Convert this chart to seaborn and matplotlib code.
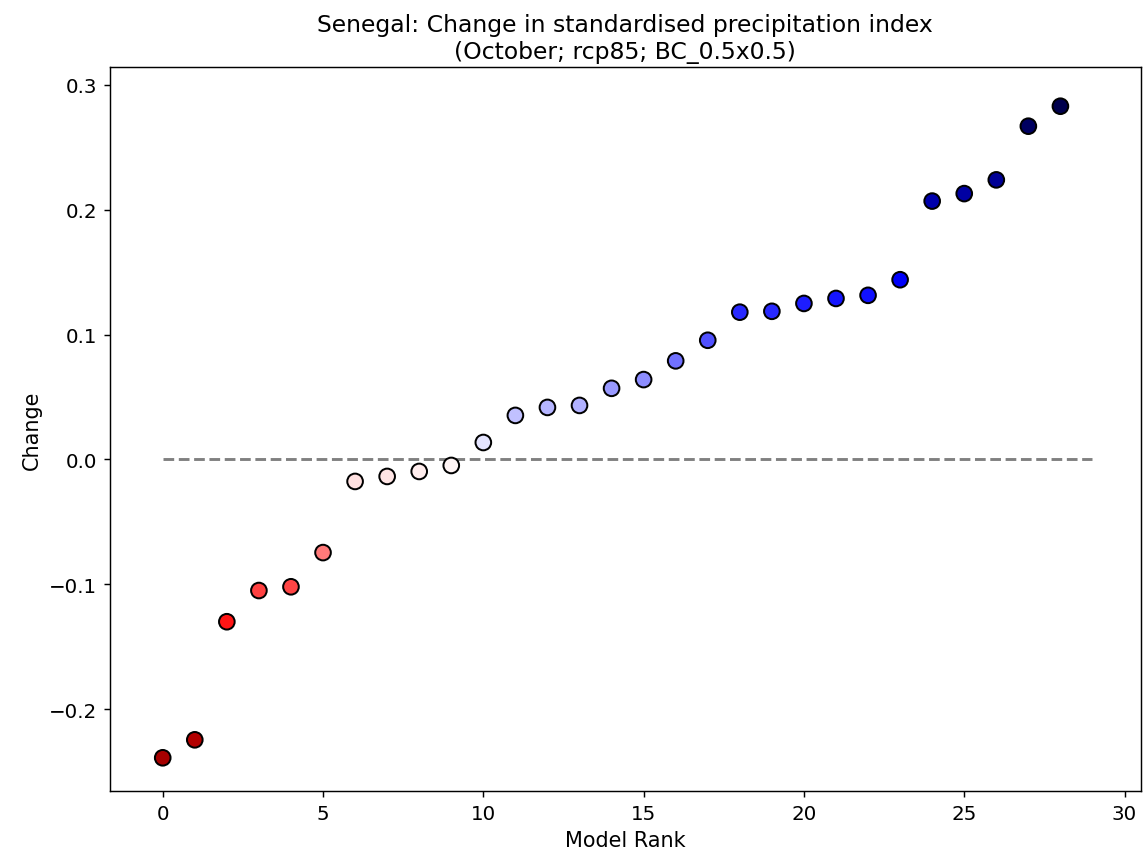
import matplotlib
matplotlib.use("Agg")
import matplotlib.pyplot as plt
import seaborn as sns
import numpy as np
import pandas as pd

# ─────────────────────────────────────────────
# DATA
# ─────────────────────────────────────────────
model_rank = list(range(29))
change = [-0.239, -0.2246, -0.130, -0.105, -0.102, -0.0746, -0.0176, -0.0136,
          -0.0096, -0.0048, 0.0136, 0.0353, 0.0417, 0.0433, 0.057, 0.064,
          0.079, 0.0955, 0.118, 0.1187, 0.125, 0.129, 0.1315, 0.144, 0.207,
          0.213, 0.224, 0.267, 0.283]
zero_line_x = [0, 29]
zero_line_y = [0, 0]

TITLE = ("Senegal: Change in standardised precipitation index\n"
         "(October; rcp85; BC_0.5x0.5)")

df = pd.DataFrame({"Model Rank": model_rank, "Change": change})
vlim = max(abs(v) for v in change)

plt.rcParams["font.size"] = 11

fig, ax = plt.subplots(figsize=(8.8, 6.623), dpi=130)
fig.subplots_adjust(left=0.096, right=0.997, top=0.921, bottom=0.080)

ax.plot(zero_line_x, zero_line_y, "--", color="grey", lw=1.6, zorder=1)
sns.scatterplot(data=df, x="Model Rank", y="Change", hue="Change",
                palette="seismic_r", hue_norm=(-vlim, vlim), s=75,
                edgecolor="black", linewidth=1.1, legend=False, ax=ax, zorder=3)

ax.set_title(TITLE, fontsize=13, pad=5)
ax.set_xlabel("Model Rank", fontsize=11.5)
ax.set_ylabel("Change", fontsize=11.5)
ax.set_xticks([0, 5, 10, 15, 20, 25, 30])
ax.set_yticks([-0.2, -0.1, 0.0, 0.1, 0.2, 0.3])
ax.set_xlim(-1.65, 30.5)
ax.set_ylim(-0.2657, 0.3144)
ax.tick_params(labelsize=11)

fig.savefig("out.png", dpi=130)
